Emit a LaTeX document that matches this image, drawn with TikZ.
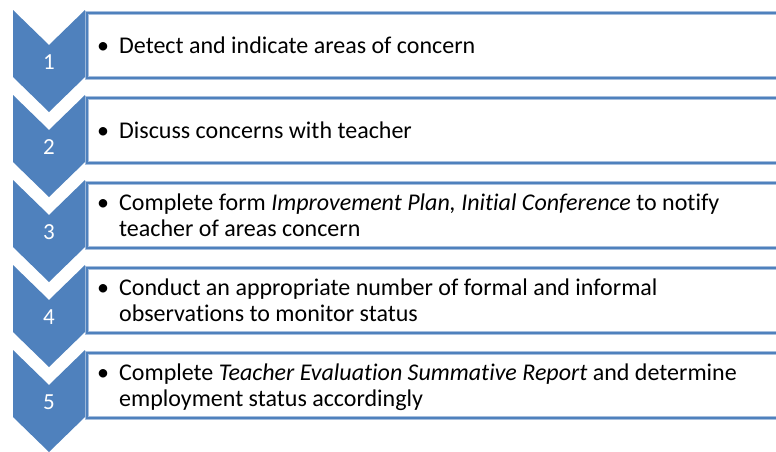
\documentclass[tikz,border=0pt]{standalone}
\usepackage{fontspec}
\setmainfont{Carlito}[Ligatures={NoCommon}]
\usetikzlibrary{positioning}
\definecolor{stepblue}{HTML}{4F81BD}
\definecolor{steplight}{HTML}{A7BFDE}

\begin{document}
\begin{tikzpicture}[x=1pt, y=-1pt,
    chev/.style={fill=stepblue},
    stepbox/.style={draw=stepblue, line width=2.2pt, preaction={draw=steplight, line width=4pt}, minimum width=710pt, minimum height=65pt, anchor=north west, inner sep=0pt},
    num/.style={text=white, inner sep=0pt, font=\fontsize{23}{26}\selectfont},
    item/.style={inner sep=0pt, yshift=-2.5pt, font=\fontsize{24}{26}\selectfont}]
    \useasboundingbox (0,0) rectangle (776,451);
    \clip (0,0) rectangle (776,451);

    % boxes
    \node (box1) [stepbox] at (86,12) {};
    \node (box2) [stepbox] at (86,97) {};
    \node (box3) [stepbox] at (86,182) {};
    \node (box4) [stepbox] at (86,267) {};
    \node (box5) [stepbox] at (86,352) {};

    % chevrons
    \fill [chev] (13,10) -- (49,45) -- (85,10) -- (85,77) -- (49,112) -- (13,77) -- cycle;
    \fill [chev] (13,95) -- (49,130) -- (85,95) -- (85,162) -- (49,197) -- (13,162) -- cycle;
    \fill [chev] (13,180) -- (49,215) -- (85,180) -- (85,247) -- (49,282) -- (13,247) -- cycle;
    \fill [chev] (13,265) -- (49,300) -- (85,265) -- (85,332) -- (49,367) -- (13,332) -- cycle;
    \fill [chev] (13,350) -- (49,385) -- (85,350) -- (85,417) -- (49,452) -- (13,417) -- cycle;

    \node (num1) [num] at (49,62) {1};
    \node (num2) [num] at (49,147) {2};
    \node (num3) [num] at (49,232) {3};
    \node (num4) [num] at (49,317) {4};
    \node (num5) [num] at (49,402) {5};

    % texts
    \node (item1) [item, right=11pt of box1.west] {\begin{tabular}{@{}l@{\hspace{10pt}}l@{}}\textbullet & Detect and indicate areas of concern\end{tabular}};
    \node (item2) [item, right=11pt of box2.west] {\begin{tabular}{@{}l@{\hspace{10pt}}l@{}}\textbullet & Discuss concerns with teacher\end{tabular}};
    \node (item3) [item, right=11pt of box3.west] {\begin{tabular}{@{}l@{\hspace{10pt}}l@{}}\textbullet & Complete form \textit{Improvement Plan, Initial Conference} to notify\\ & teacher of areas concern\end{tabular}};
    \node (item4) [item, right=11pt of box4.west] {\begin{tabular}{@{}l@{\hspace{10pt}}l@{}}\textbullet & Conduct an appropriate number of formal and informal\\ & observations to monitor status\end{tabular}};
    \node (item5) [item, right=11pt of box5.west] {\begin{tabular}{@{}l@{\hspace{10pt}}l@{}}\textbullet & Complete \textit{Teacher Evaluation Summative Report} and determine\\ & employment status accordingly\end{tabular}};
\end{tikzpicture}
\end{document}
